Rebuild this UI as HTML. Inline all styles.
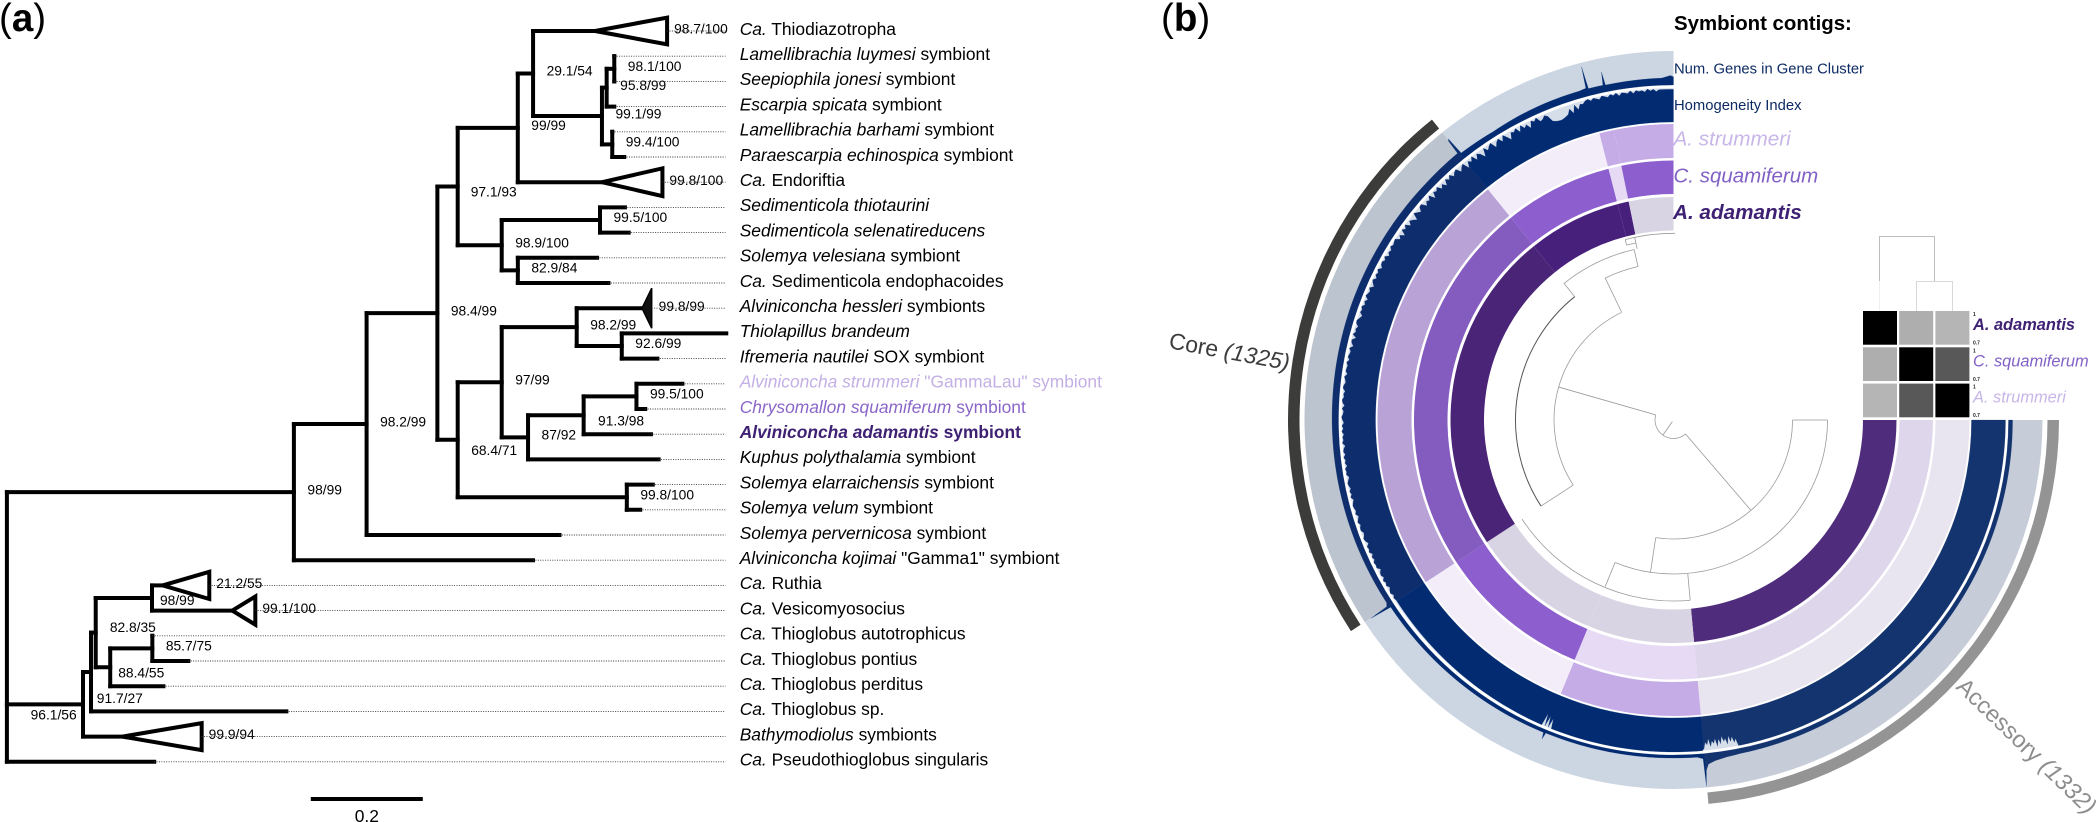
<!DOCTYPE html>
<html lang="en">
<head>
<meta charset="utf-8">
<title>Symbiont phylogeny and pangenome</title>
<style>
html,body{margin:0;padding:0;background:#fff;}
svg{display:block;font-family:"Liberation Sans",sans-serif;}
</style>
</head>
<body>
<svg id="figure" xmlns="http://www.w3.org/2000/svg" width="2099" height="822" viewBox="0 0 2099 822">
  <rect width="2099" height="822" fill="#fff"/>
  <text x="-1" y="31" font-size="38.5">(<tspan font-weight="bold">a</tspan>)</text>
  <text x="1161" y="31" font-size="38.5">(<tspan font-weight="bold">b</tspan>)</text>
  <g id="tree"></g>
  <g id="scale"></g>
  <g id="rings"></g>
  <g id="dendro"></g>
  <g id="heat"></g>
  <g fill="none">
    <path d="M1879.5 281V236.5H1934.5V281.5" stroke="#bdbdbd" stroke-width="1"/>
    <path d="M1916.5 311V281.5H1952.5V311" stroke="#d8d8d8" stroke-width="1"/>
    <path d="M1879.5 281V311" stroke="#efefef" stroke-width="1"/>
  </g>
  <text x="1674" y="30" font-size="20.4" font-weight="bold" fill="#000">Symbiont contigs:</text>
  <text x="1674" y="73.5" font-size="14.8" fill="#0c2a63">Num. Genes in Gene Cluster</text>
  <text x="1674" y="110" font-size="14.8" fill="#0c2a63">Homogeneity Index</text>
  <text x="1673.5" y="145.5" font-size="20.7" font-style="italic" fill="#c8b6e8">A. strummeri</text>
  <text x="1673.5" y="182.5" font-size="20.5" font-style="italic" fill="#8161c6">C. squamiferum</text>
  <text x="1673" y="219" font-size="20.7" font-style="italic" font-weight="bold" fill="#3f2174">A. adamantis</text>
  <text transform="translate(1168 348) rotate(10.5)" font-size="22.9" fill="#3c3c3c">Core <tspan font-style="italic">(1325)</tspan></text>
  <text transform="translate(1955 688) rotate(44)" font-size="23.6" fill="#8e8e8e">Accessory <tspan font-style="italic">(1332)</tspan></text>
</svg>
<script>
// ---------- Panel (a): phylogeny data ----------
const leafItalic = ["Ca.","Lamellibrachia luymesi","Seepiophila jonesi","Escarpia spicata","Lamellibrachia barhami","Paraescarpia echinospica","Ca.","Sedimenticola thiotaurini","Sedimenticola selenatireducens","Solemya velesiana","Ca.","Alviniconcha hessleri","Thiolapillus brandeum","Ifremeria nautilei","Alviniconcha strummeri","Chrysomallon squamiferum","Alviniconcha adamantis","Kuphus polythalamia","Solemya elarraichensis","Solemya velum","Solemya pervernicosa","Alviniconcha kojimai","Ca.","Ca.","Ca.","Ca.","Ca.","Ca.","Bathymodiolus","Ca."];
const leafPlain = [" Thiodiazotropha"," symbiont"," symbiont"," symbiont"," symbiont"," symbiont"," Endoriftia","",""," symbiont"," Sedimenticola endophacoides"," symbionts",""," SOX symbiont"," \"GammaLau\" symbiont"," symbiont"," symbiont"," symbiont"," symbiont"," symbiont"," symbiont"," \"Gamma1\" symbiont"," Ruthia"," Vesicomyosocius"," Thioglobus autotrophicus"," Thioglobus pontius"," Thioglobus perditus"," Thioglobus sp."," symbionts"," Pseudothioglobus singularis"];
// tree topology: T = leaf, in row order
const treeShape = "(((((((T,(((T,T),T),(T,T))),T),((T,T),(T,T))),(((T,(T,T)),(((T,T),T),T)),(T,T))),T),T),((((T,T),((T,T),T)),T),T),T)";
// branch lengths (substitutions/site) in preorder, root excluded
const branchLengths = [
  .5125,.1298,.1264,.0363,.1073,.0273,.1107,.1230,.0084,.0136,0,0,.0136,.0184,0,.0214,.1504,
  .0786,.1755,.0445,.0513,.0288,.1414,.1618,
  .0363,.0786,.1339,.1166,.0805,.1866,.0636,.0470,.0993,.0943,.0820,.0157,.1202,.2332,.3020,.0464,.0239,
  .3445,.4270,
  .1359,.0143,.0084,.1005,.0189,.1434,.0259,.0752,0,.0643,.0950,.3488,.0705,.2630
];
// support values of internal nodes in preorder, root excluded
const supportValues = ["98/99","98.2/99","98.4/99","97.1/93","99/99","29.1/54","99.1/99","95.8/99","98.1/100","99.4/100","98.9/100","99.5/100","82.9/84","68.4/71","97/99","98.2/99","92.6/99","87/92","91.3/98","99.5/100","99.8/100","96.1/56","91.7/27","82.8/35","98/99","88.4/55","85.7/75"];
// collapsed clades
const cladeLeaves = [0,6,11,22,23,28];
const cladeDepths = [.1286,.1079,.0173,.0834,.0411,.1414];
const cladeSpans = [1.06,1.10,1.59,1.08,1.12,1.07];
const cladeSupports = ["98.7/100","99.8/100","99.8/99","21.2/55","99.1/100","99.9/94"];
const scaleLength = 0.2;

// ---------- Panel (b): pangenome data ----------
const sectorEdges = [0,84.7,112.4,146.8,231.2,255.5,258.4,270];
const sectorKinds = ["acc","other","other","core","other","other","other"];
const adamantisPresence = [1,0,0,1,1,1,0];
const squamiferumPresence = [0,0,1,1,1,0,1];
const strummeriPresence = [0,1,0,1,0,1,1];
const binGroups = ["Accessory (1332)","Core (1325)"];
const binSpans = [[0,84.8],[146.8,231.2]];
// number of genes in gene cluster (percent of ring height) at ordered positions (deg)
const genesPos = [0,60,78.7,81,83,84.2,84.65,84.85,85,86,112.2,112.4,112.6,146.5,146.75,146.95,147.5,170,200,224,231,231.1,231.3,231.5,238,243,248,254,255.2,255.4,255.6,258.1,258.3,258.5,268,269.5,270];
const genesVal = [12,13,15,18,24,32,50,97,15,9,9,29,10,12,79,21,15,18,21,22,24,68,74,18,15,18,20,21,24,88,21,21,60,20,21,28,24];
// homogeneity index (percent of ring height)
const homAccessoryStart = 78.7;
const homAccessory = [100,78,88,70,84,66,90,72,80,64,86,70,92,68,82,74,90,66,84,76,94,100];
const homMidStart = 111.6;
const homMid = [100,70,100,66,100,62,100,100];
const homCoreStart = 147;
const homCore = [
 96,99,94,100,97,92,99,95,100,93,98,96,90,99,97,100,94,98,92,100,96,99,91,97,100,95,93,99,98,94,100,96,92,99,95,98,100,
 97,93,100,95,99,94,98,100,96,92,99,97,100,93,98,95,100,94,99,97,92,100,96,98,94,100,95,99,93,97,100,96,94,99,92,98,100,95,97,93,100,99,94,96,100,92,98,97,95,100,93,99,96,
 94,100,90,97,99,88,100,93,96,91,99,100,94,89,98,95,100,92,97,90,100,96,93,99,88,95,100,91,98,94,100,90,97,99,93,100,89,96,92,100,95,98,
 100,87,95,82,99,91,100,85,96,90,80,100,93,86,98,100,84,94,89,100,81,97,92,100,86,95,83,99,90,100,88,96,
 100,84,93,99,78,95,88,100,82,97,90,75,99,86,94,100,80,92,98,84,100,89,76,95,91,99,83,100,87,94,79,98,92,100,85,88,96,90,
 72,68,66,65,67,70,
 74,88,72,95,78,92,
 90,97,100,93,99,95,91,100,96,92,99,94,100,90,98,96,93,100,91,99,95,97,92,100,94,98,91,96
];
const homBinDeg = 0.5;
const homFineDeg = 0.3;
// dendrogram: arcs [radius, from, to] and radials [angle, r0, r1] in cluster-tree coordinates
const dendroArcs = [[18.5,49.4,196],[119,0,98.6],[154,0,112.3],[181,84.7,146.8],[119.5,147,244.3],[157.5,244.3,257],[175,231.3,257],[181,255,258],[186.7,255,270.5]];
const dendroRadials = [[125,2,18.5],[49.4,18.5,119],[196,18.5,119.5],[0,119,154],[98.6,119,154],[84.7,154.5,181],[112.3,154,180],[147,119.5,158],[231.3,158,175.5],[244.3,120,157.5],[257,157.5,175],[258,175,186.7],[255,181,186.7]];
const dendroDarkArc = [158,147,231.3];
// average nucleotide identity matrix
const heatNames = ["A. adamantis","C. squamiferum","A. strummeri"];
const heatAni = [[1,.795,.787],[.795,1,.896],[.787,.896,1]];
const heatTicks = ["1","0.7"];

// ---------- helpers ----------
const NS = "http://www.w3.org/2000/svg";
function el(parent, tag, attrs, text){
  const n = document.createElementNS(NS, tag);
  for (const k in attrs) n.setAttribute(k, attrs[k]);
  if (text !== undefined) n.textContent = text;
  parent.appendChild(n);
  return n;
}

// ---------- tree layout ----------
const treeX0 = 6.9, treePxPerUnit = 560, rowY0 = 31, rowStep = 25.2, tipEndX = 725.5, treeStroke = 4;
function xScale(d){ return treeX0 + d * treePxPerUnit; }
function yScale(r){ return rowY0 + r * rowStep; }
const treeG = document.getElementById("tree");
let shapePos = 0, lenPos = 0, leafPos = 0, supPos = 0;
function parseNode(isRoot, parentDepth){
  const node = {};
  node.depth = isRoot ? 0 : parentDepth + branchLengths[lenPos++];
  node.parentDepth = parentDepth;
  if (treeShape[shapePos] === "T"){
    shapePos++;
    node.leaf = leafPos++;
    node.row = node.leaf;
    return node;
  }
  if (!isRoot) node.support = supPos++;
  shapePos++;
  node.kids = [];
  while (true){
    node.kids.push(parseNode(false, node.depth));
    const c = treeShape[shapePos++];
    if (c === ")") break;
  }
  node.row = (node.kids[0].row + node.kids[node.kids.length - 1].row) / 2;
  return node;
}
const treeRoot = parseNode(true, 0);
const supportNudges = {3:[13,5.2],13:[13.5,10.5],18:[14.4,5.3],21:[-52.4,10.5],22:[5.8,26],23:[14.1,-5.4],24:[8,2.3],25:[8,5.3]};

function addSupport(label, x, y){
  const t = el(treeG, "text", {x:x, y:y + 4.8, "font-size":13.8, fill:"#000"}, label);
  
  
}
function drawNode(n){
  const y = yScale(n.row);
  const tipX = xScale(n.depth);
  if (n !== treeRoot){
    const h = el(treeG, "line", {x1:xScale(n.parentDepth), x2:tipX, y1:y, y2:y, stroke:"#000", "stroke-width":treeStroke, "stroke-linecap":"square"});
    
    
  }
  if (n.kids){
    const v = el(treeG, "line", {x1:tipX, x2:tipX, y1:yScale(n.kids[0].row), y2:yScale(n.kids[n.kids.length-1].row), stroke:"#000", "stroke-width":treeStroke, "stroke-linecap":"square"});
    
    
    if (n.support !== undefined){
      const nudge = supportNudges[n.support] || [13.5,-2.6];
      addSupport(supportValues[n.support], tipX + nudge[0], y + nudge[1]);
    }
    n.kids.forEach(drawNode);
    return;
  }
  // leaf
  const ci = cladeLeaves.indexOf(n.leaf);
  let dotStart = tipX;
  if (ci >= 0){
    const baseX = xScale(n.depth + cladeDepths[ci]);
    const half = cladeSpans[ci] * rowStep / 2;
    dotStart = baseX;
    const tri = el(treeG, "polygon", {points:tipX + "," + y + " " + baseX + "," + (y - half) + " " + baseX + "," + (y + half), fill:n.leaf === 11 ? "#111" : "#fff", stroke:"#000", "stroke-width":n.leaf === 11 ? 1.5 : 4, "stroke-linejoin":"miter"});
    
    
    addSupport(cladeSupports[ci], baseX + 7, y - 2.2);
  }
  const dot = el(treeG, "line", {x1:dotStart, x2:tipEndX, y1:y, y2:y, stroke:"#333", "stroke-width":0.9, "stroke-dasharray":"1 1.4"});
  
  
  if (n.leaf === 12) dot.setAttribute("opacity", "0");
  const i = n.leaf;
  const colors = {14:"#c4b0e5",15:"#8a66c8",16:"#3f2174"};
  const label = el(treeG, "text", {x:739.7, y:y + 3.8, "font-size":17.4, fill:colors[i] || "#000", "font-weight":i === 16 ? "bold" : "normal"});
  
  
  const a = el(label, "tspan", {"font-style":"italic"}, leafItalic[i]);
  
  
  if (leafPlain[i]){
    const b = el(label, "tspan", {}, leafPlain[i]);
    
    
  }
}
drawNode(treeRoot);

// scale bar
const scaleG = document.getElementById("scale");
const scaleX1 = 310.8;
const scaleX2 = scaleX1 + scaleLength * treePxPerUnit;
const sBar = el(scaleG, "line", {x1:scaleX1, x2:scaleX2, y1:799, y2:799, stroke:"#000", "stroke-width":treeStroke});


const sLab = el(scaleG, "text", {x:(scaleX1 + scaleX2) / 2, y:822, "font-size":17.4, "text-anchor":"middle"}, String(scaleLength));



// ---------- rings ----------
const cx = 1673.5, cy = 420;
function pt(a, r){
  const t = a * Math.PI / 180;
  return [cx + r * Math.cos(t), cy + r * Math.sin(t)];
}
function fmt(p){ return p[0].toFixed(2) + " " + p[1].toFixed(2); }
function annulus(a0, a1, r0, r1){
  const large = a1 - a0 > 180 ? 1 : 0;
  return "M" + fmt(pt(a0, r1)) + "A" + r1 + " " + r1 + " 0 " + large + " 1 " + fmt(pt(a1, r1)) + "L" + fmt(pt(a1, r0)) + "A" + r0 + " " + r0 + " 0 " + large + " 0 " + fmt(pt(a0, r0)) + "Z";
}
function arcPath(r, a0, a1){
  const large = a1 - a0 > 180 ? 1 : 0;
  return "M" + fmt(pt(a0, r)) + "A" + r + " " + r + " 0 " + large + " 1 " + fmt(pt(a1, r));
}
const ringsG = document.getElementById("rings");
const presenceRings = [
  {name:"adamantis", pres:adamantisPresence, r0:189.5, r1:223, on:{acc:"#4f2c7c",core:"#4a2577",other:"#47207c"}, off:{acc:"#d9d4e3",core:"#d9d4e3",other:"#d9d4e3"}},
  {name:"squamiferum", pres:squamiferumPresence, r0:226, r1:259.5, on:{acc:"#8f5fd0",core:"#845bbf",other:"#8d5ece"}, off:{acc:"#ded6eb",core:"#ded6eb",other:"#e6daf5"}},
  {name:"strummeri", pres:strummeriPresence, r0:262, r1:296, on:{acc:"#c5ace6",core:"#b8a2d6",other:"#c5ace6"}, off:{acc:"#e8e4f0",core:"#e8e4f0",other:"#f3edfa"}}
];
presenceRings.forEach(function(ring){
  ring.pres.forEach(function(p, i){
    const kind = sectorKinds[i];
    const seg = el(ringsG, "path", {d:annulus(sectorEdges[i], sectorEdges[i+1], ring.r0, ring.r1), fill:p ? ring.on[kind] : ring.off[kind]});
    
    
  });
});

// series helpers
function interp(xs, ys, a){
  if (a <= xs[0]) return ys[0];
  for (let i = 1; i < xs.length; i++){
    if (a <= xs[i]){
      const t = (a - xs[i-1]) / (xs[i] - xs[i-1] || 1);
      return ys[i-1] + t * (ys[i] - ys[i-1]);
    }
  }
  return ys[ys.length-1];
}
function seriesBand(xs, ys, a0, a1, r0, r1){
  const rOf = function(v){ return r0 + (r1 - r0) * v / 100; };
  // follow the curvature of the ring: add a point each degree between sparse positions
  let angles = [a0, a1];
  xs.forEach(function(x){ if (x > a0 && x < a1) angles.push(x); });
  for (let a = Math.ceil(a0); a < a1; a += 1) angles.push(a);
  angles = angles.sort(function(p, q){ return p - q; });
  const pts = angles.map(function(a){ return pt(a, rOf(interp(xs, ys, a))); });
  let d = "M" + pts.map(fmt).join("L");
  d += "L" + fmt(pt(a1, r0)) + "A" + r0 + " " + r0 + " 0 " + (a1 - a0 > 180 ? 1 : 0) + " 0 " + fmt(pt(a0, r0)) + "Z";
  return d;
}
const navySectors = [[0,84.7,"#13346f"],[84.7,146.8,"#022b71"],[146.8,231.2,"#0d2d6d"],[231.2,270,"#022b71"]];

// homogeneity ring: series assembled from named arrays
const homX = [0], homY = [100];
homAccessory.forEach(function(v, i){ homX.push(homAccessoryStart + i * homFineDeg); homY.push(v); });
homMid.forEach(function(v, i){ homX.push(homMidStart + i * homFineDeg); homY.push(v); });
homCore.forEach(function(v, i){ homX.push(homCoreStart + i * homBinDeg); homY.push(v); });
homX.push(270); homY.push(homCore[homCore.length-1]);

const homBg = el(ringsG, "path", {d:annulus(0, 270, 298, 332), fill:"#d6deea"});


navySectors.forEach(function(s){
  const band = el(ringsG, "path", {d:seriesBand(homX, homY, s[0], s[1], 298, 332), fill:s[2], stroke:s[2], "stroke-width":0.2});
  
  
});

// number of genes ring
const geneBgs = [[0,84.7,"#c6cdd9"],[84.7,146.8,"#ccd5e2"],[146.8,231.2,"#bcc4cf"],[231.2,270,"#ccd5e2"]];
geneBgs.forEach(function(s){
  const bg = el(ringsG, "path", {d:annulus(s[0], s[1], 335, 369), fill:s[2]});
  
  
});
navySectors.forEach(function(s){
  const band = el(ringsG, "path", {d:seriesBand(genesPos, genesVal, s[0], s[1], 335, 369), fill:s[2], stroke:s[2], "stroke-width":0.2});
  
  
});

// outer bin arcs
const binColors = ["#949494","#3c3d3b"];
binSpans.forEach(function(span, i){
  const arc = el(ringsG, "path", {d:annulus(span[0], span[1], 374, 385.5), fill:binColors[i]});
  
  
});

// dendrogram
const dendroG = document.getElementById("dendro");
dendroArcs.forEach(function(a){
  const p = el(dendroG, "path", {d:arcPath(a[0], a[1], a[2]), fill:"none", stroke:"#9a9a9a", "stroke-width":0.8});
  
  
});
dendroRadials.forEach(function(a){
  const p1 = pt(a[0], a[1]), p2 = pt(a[0], a[2]);
  const l = el(dendroG, "line", {x1:p1[0], y1:p1[1], x2:p2[0], y2:p2[1], stroke:"#9a9a9a", "stroke-width":0.8});
  
  
});
const darkArc = el(dendroG, "path", {d:arcPath(dendroDarkArc[0], dendroDarkArc[1], dendroDarkArc[2]), fill:"none", stroke:"#555", "stroke-width":1});



// heatmap
const heatG = document.getElementById("heat");
const heatX0 = 1863, heatY0 = 311, heatStepX = 36.2, heatStepY = 36.3, heatW = 34, heatH = 33.7;
function heatColor(v){
  const g = Math.round(255 * (1 - (v - 0.7) / 0.3));
  return "rgb(" + g + "," + g + "," + g + ")";
}
const heatLabelColors = ["#3f2174","#8161c6","#c8b6e8"];
heatAni.forEach(function(row, r){
  row.forEach(function(v, c){
    const cell = el(heatG, "rect", {x:heatX0 + c * heatStepX, y:heatY0 + r * heatStepY, width:heatW, height:heatH, fill:heatColor(v)});
    
    
  });
  const y = heatY0 + r * heatStepY;
  const name = el(heatG, "text", {x:1973, y:y + 19, "font-size":16.4, "font-style":"italic", "font-weight":r === 0 ? "bold" : "normal", fill:heatLabelColors[r]}, heatNames[r]);
  
  
  const t1 = el(heatG, "text", {x:1973, y:y + 5, "font-size":5, "font-weight":"bold", fill:"#222"}, heatTicks[0]);
  
  
  const t2 = el(heatG, "text", {x:1973, y:y + 33.5, "font-size":5, "font-weight":"bold", fill:"#222"}, heatTicks[1]);
  
  
});
</script>
</body>
</html>
